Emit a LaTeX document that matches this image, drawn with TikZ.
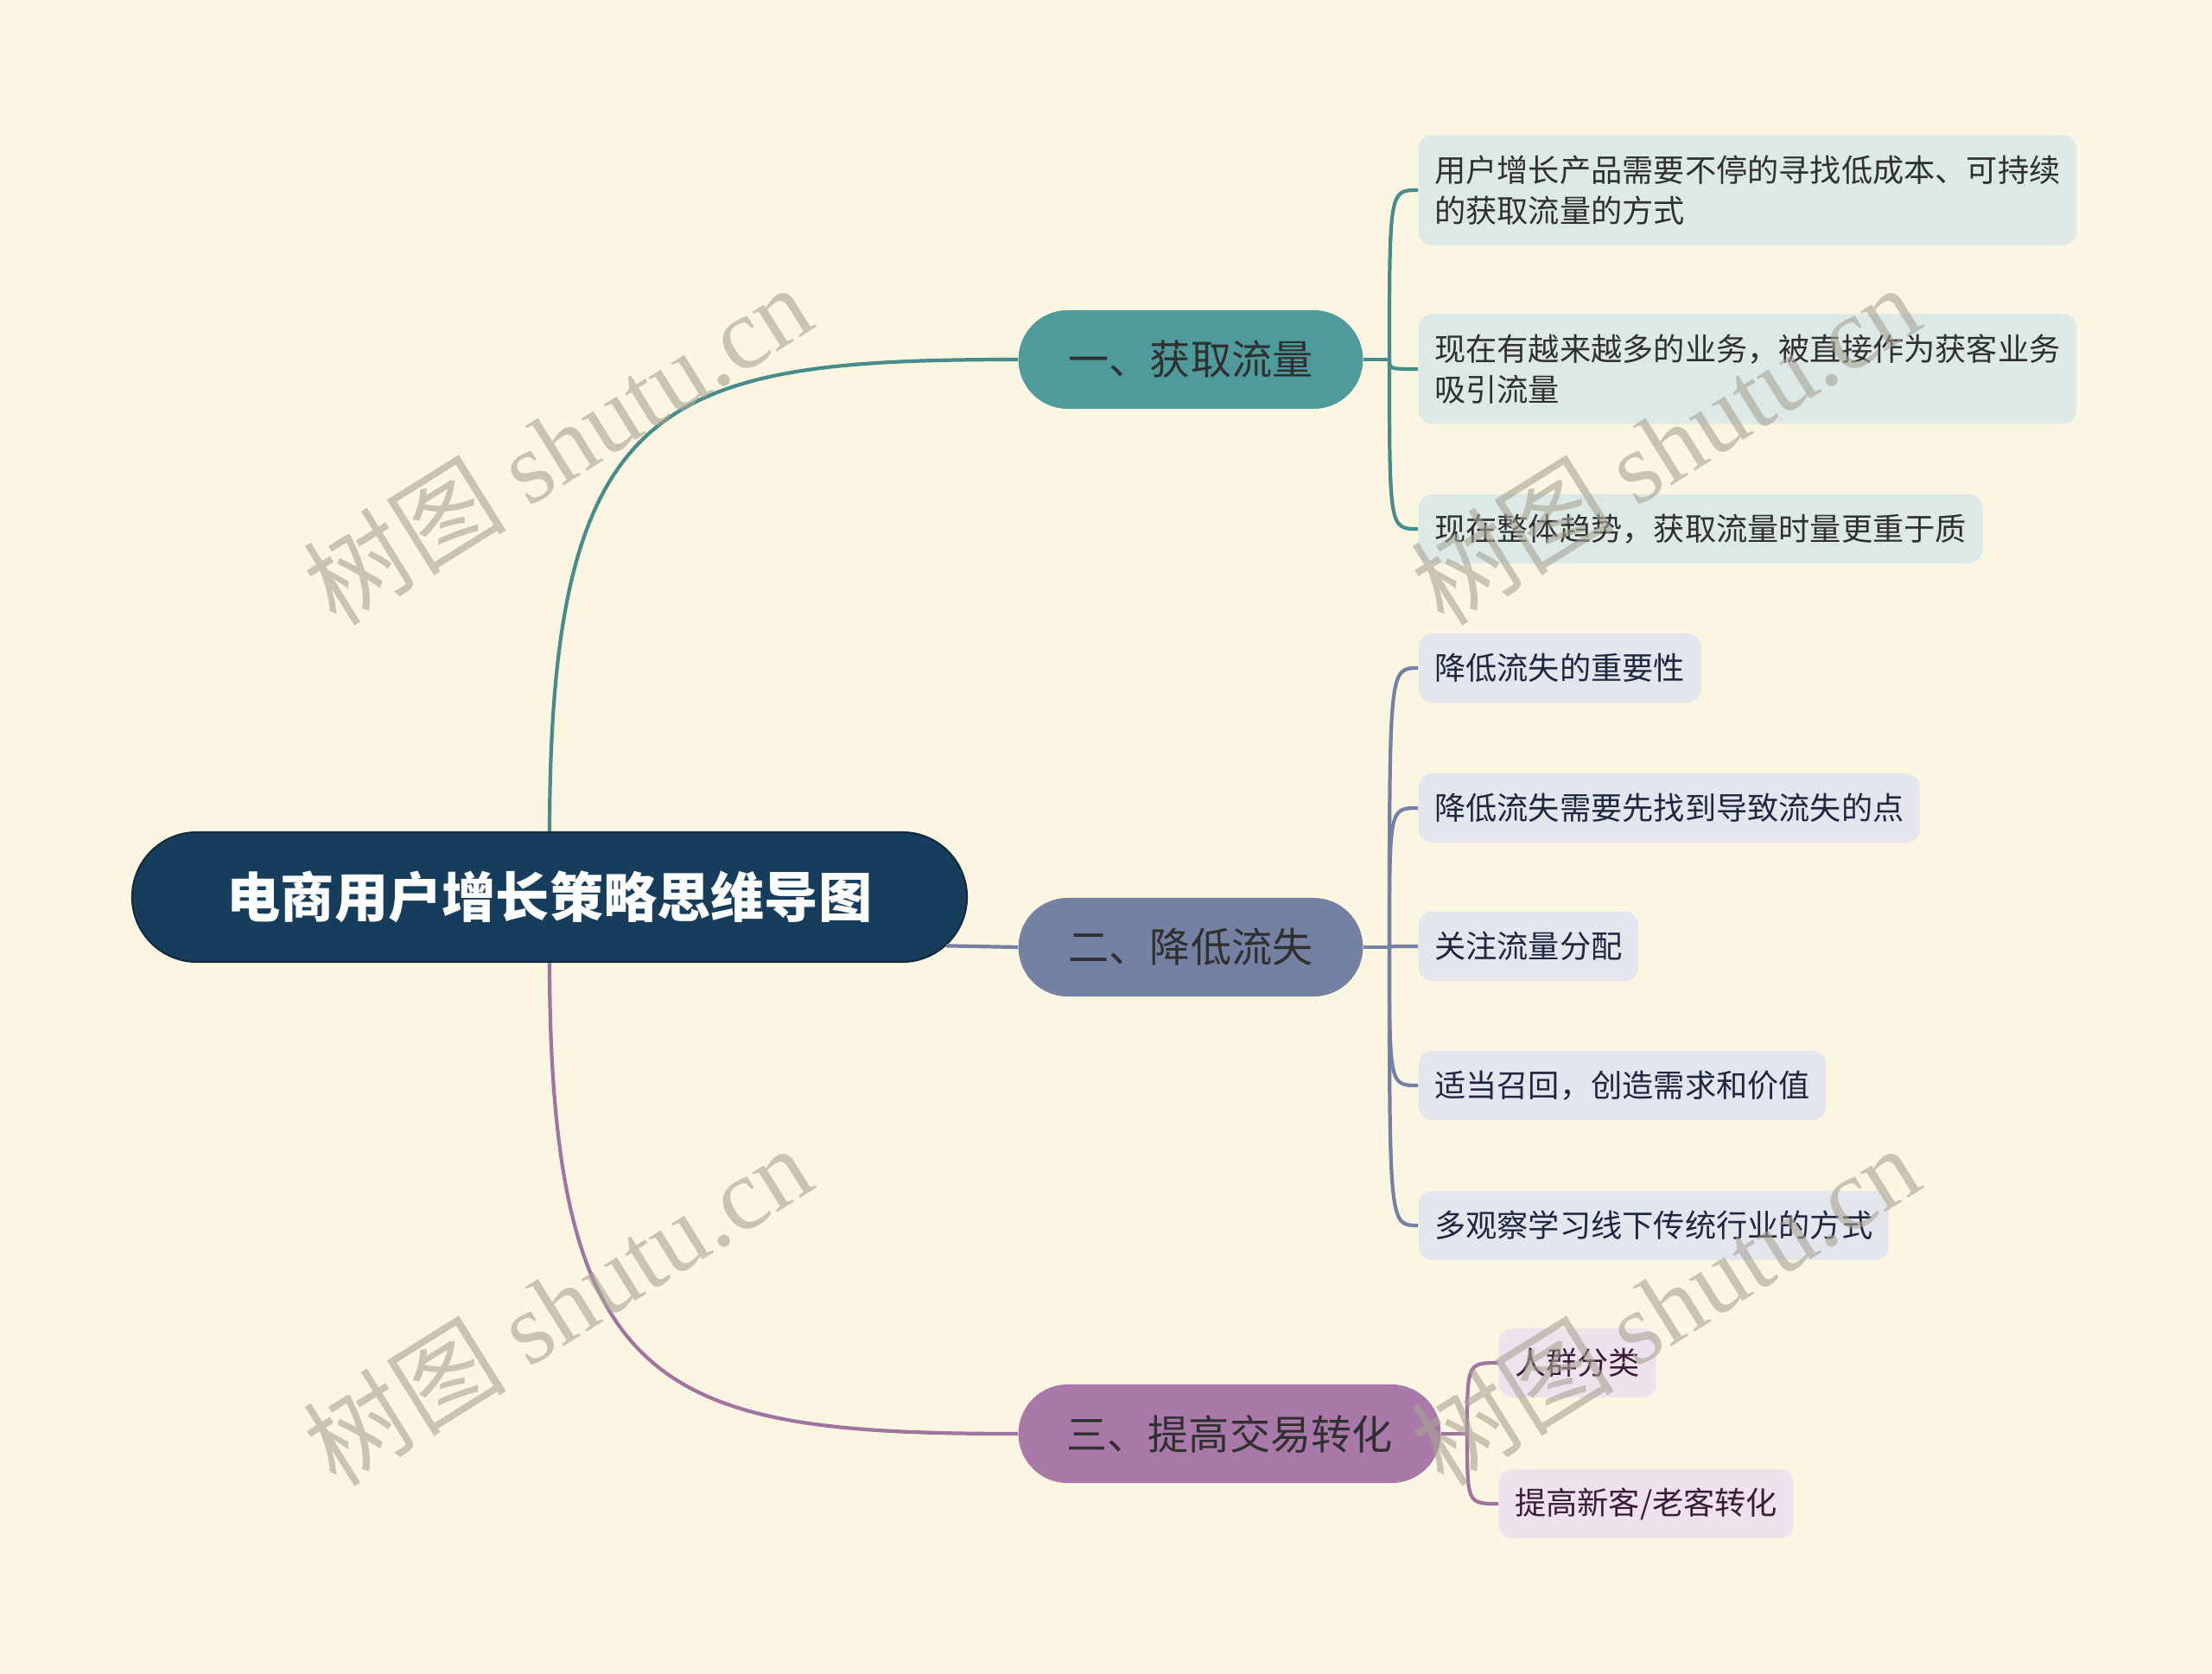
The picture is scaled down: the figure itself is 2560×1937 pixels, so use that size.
\documentclass[tikz,border=0pt]{standalone}
\usepackage{fontspec}
\setmainfont{Noto Sans CJK SC}
\newfontfamily\wmlatin{Liberation Serif}
\newfontfamily\wmcjk{Noto Sans CJK SC}
\usetikzlibrary{shapes.misc}
\definecolor{bgc}{HTML}{FBF6E1}
\definecolor{rootc}{HTML}{173D5C}
\definecolor{tealc}{HTML}{4F9A9A}
\definecolor{slatec}{HTML}{7581A2}
\definecolor{purplec}{HTML}{A879A9}
\definecolor{leafa}{HTML}{DCE9E6}
\definecolor{leafb}{HTML}{E4E6EE}
\definecolor{leafc}{HTML}{EEE2EC}
\definecolor{txta}{HTML}{303030}
\definecolor{txtb}{HTML}{1F2740}
\definecolor{txtc}{HTML}{3A1B3A}
\definecolor{wmc}{HTML}{A8A493}
\tikzset{
  rootbox/.style={rounded rectangle, fill=rootc, draw=rootc!70!black, line width=0.6pt,
    minimum width=9.89cm, minimum height=1.5cm, text=white,
    font=\fontsize{17.7pt}{21pt}\selectfont\bfseries},
  branchbox/.style={rounded rectangle, minimum height=1.14cm, text=txta,
    font=\fontsize{13.4pt}{16pt}\selectfont},
  leafbox/.style={rounded corners=4.5pt, inner xsep=0.185cm, inner ysep=0pt,
    minimum height=0.8cm, anchor=west, align=left,
    font=\fontsize{10.3pt}{13.4pt}\selectfont},
  wm/.style={rotate=32, text=wmc, opacity=0.6, font=\fontsize{33.5pt}{38pt}\selectfont},
  conn/.style={line width=1.2pt}
}
\begin{document}
\begin{tikzpicture}[x=0.01cm,y=-0.01cm]
\fill[bgc] (0,0) rectangle (2560,1937);
\useasboundingbox (0,0) rectangle (2560,1937);

% root and branches
\node[rootbox] (root) at (636,1038) {电商用户增长策略思维导图};
\node[branchbox, fill=tealc, minimum width=4.22cm] (b1) at (1378,416) {一、获取流量};
\node[branchbox, fill=slatec, minimum width=4.22cm] (b2) at (1378,1096) {二、降低流失};
\node[branchbox, fill=purplec, minimum width=5.12cm] (b3) at (1423,1659) {三、提高交易转化};

% leaves of branch 1
\node[leafbox, fill=leafa, text=txta, minimum height=1.27cm] (l1a) at (1641,220)
  {用户增长产品需要不停的寻找低成本、可持续\\的获取流量的方式};
\node[leafbox, fill=leafa, text=txta, minimum height=1.27cm] (l1b) at (1641,427)
  {现在有越来越多的业务，被直接作为获客业务\\吸引流量};
\node[leafbox, fill=leafa, text=txta] (l1c) at (1641,612) {现在整体趋势，获取流量时量更重于质};

% leaves of branch 2
\node[leafbox, fill=leafb, text=txtb] (l2a) at (1641,773) {降低流失的重要性};
\node[leafbox, fill=leafb, text=txtb] (l2b) at (1641,935) {降低流失需要先找到导致流失的点};
\node[leafbox, fill=leafb, text=txtb] (l2c) at (1641,1095) {关注流量分配};
\node[leafbox, fill=leafb, text=txtb] (l2d) at (1641,1256) {适当召回，创造需求和价值};
\node[leafbox, fill=leafb, text=txtb] (l2e) at (1641,1418) {多观察学习线下传统行业的方式};

% leaves of branch 3
\node[leafbox, fill=leafc, text=txtc] (l3a) at (1734,1577) {人群分类};
\node[leafbox, fill=leafc, text=txtc] (l3b) at (1734,1740) {提高新客/老客转化};

% junctions
\coordinate (j1) at (1608,416);
\coordinate (j2) at (1608,1096);
\coordinate (j3) at (1698,1659);

% root to branches
\draw[conn, tealc!90!black] (root.north) .. controls (637,457) and (767,416) .. (b1.west);
\draw[conn, slatec] (root.-7) -- (b2.west);
\draw[conn, purplec!95!black] (root.south) .. controls (637,1616) and (767,1659) .. (b3.west);

% branch 1 to leaves
\draw[conn, tealc!90!black] (b1.east) -- (j1);
\foreach \l in {l1a,l1b,l1c}{
  \draw[conn, tealc!90!black] (j1) .. controls (j1 |- \l.west) and (j1 |- \l.west) .. (\l.west);
}
% branch 2 to leaves
\draw[conn, slatec] (b2.east) -- (j2);
\foreach \l in {l2a,l2b,l2c,l2d,l2e}{
  \draw[conn, slatec] (j2) .. controls (j2 |- \l.west) and (j2 |- \l.west) .. (\l.west);
}
% branch 3 to leaves
\draw[conn, purplec!95!black] (b3.east) -- (j3);
\foreach \l in {l3a,l3b}{
  \draw[conn, purplec!95!black] (j3) .. controls (j3 |- \l.west) and (j3 |- \l.west) .. (\l.west);
}

% watermarks
\node[wm] (w1) at (645,514) {{\wmcjk 树图} {\wmlatin shutu.cn}};
\node[wm] (w2) at (1927,514) {{\wmcjk 树图} {\wmlatin shutu.cn}};
\node[wm] (w3) at (645,1510) {{\wmcjk 树图} {\wmlatin shutu.cn}};
\node[wm] (w4) at (1927,1510) {{\wmcjk 树图} {\wmlatin shutu.cn}};
\end{tikzpicture}
\end{document}
